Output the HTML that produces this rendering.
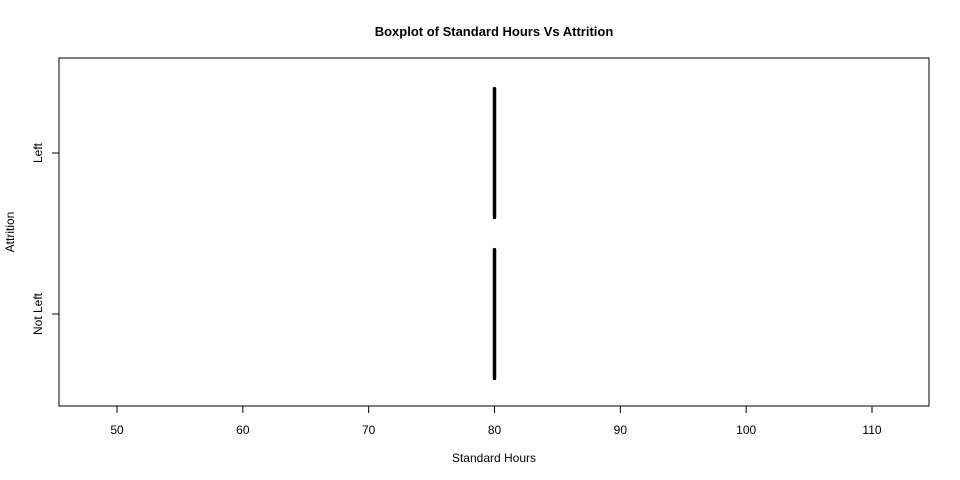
<!DOCTYPE html>
<html><head><meta charset="utf-8"><style>
body{margin:0;background:#fff}
svg{display:block;font-family:"Liberation Sans",Arial,sans-serif}
</style></head><body>
<svg id="chart" width="960" height="480">
<rect width="960" height="480" fill="#fff"/>
<text x="494" y="36" text-anchor="middle" font-size="13" font-weight="bold">Boxplot of Standard Hours Vs Attrition</text>
<rect x="59" y="58" width="870" height="348" fill="none" stroke="#000" stroke-width="1"/>
<text x="494" y="462" text-anchor="middle" font-size="12">Standard Hours</text>
<text transform="translate(14,232) rotate(-90)" text-anchor="middle" font-size="12">Attrition</text>
<g id="xaxis"></g>
<g id="yaxis"></g>
<g id="marks"></g>
</svg>
<script>
const categories = ["Not Left", "Left"];
const mins = [80, 80];
const q1s = [80, 80];
const medians = [80, 80];
const q3s = [80, 80];
const maxs = [80, 80];
const xTicks = [50, 60, 70, 80, 90, 100, 110];

const NS = "http://www.w3.org/2000/svg";
function xScale(v){ return 117 + (v - 50) * (872 - 117) / 60; }
function yScale(i){ return 314 - i * 161; }
const boxHalf = 0.4 * 161;
function mk(tag, attrs, parent){
  const e = document.createElementNS(NS, tag);
  for (const k in attrs) e.setAttribute(k, attrs[k]);
  parent.appendChild(e); return e;
}
const xa = document.getElementById('xaxis');
mk('line',{x1:xScale(xTicks[0]),x2:xScale(xTicks[xTicks.length-1]),y1:406,y2:406,stroke:'#000'},xa);
xTicks.forEach(t=>{
  const l = mk('line',{x1:xScale(t),x2:xScale(t),y1:406,y2:413,stroke:'#000'},xa);
  
  
  const tx = mk('text',{x:xScale(t),y:434,'text-anchor':'middle','font-size':12},xa);
  tx.textContent = t;
  
  
});
const ya = document.getElementById('yaxis');
categories.forEach((c,i)=>{
  const y = yScale(i);
  const l = mk('line',{x1:52,x2:59,y1:y,y2:y,stroke:'#000'},ya);
  
  
  const tx = mk('text',{transform:`translate(42,${y}) rotate(-90)`,'text-anchor':'middle','font-size':12},ya);
  tx.textContent = c;
  
  
});
const mg = document.getElementById('marks');
categories.forEach((c,i)=>{
  const y = yScale(i);
  const g = mk('g',{},mg);
  
  
  const x1 = xScale(q1s[i]), x3 = xScale(q3s[i]);
  mk('line',{x1:xScale(mins[i]),x2:x1,y1:y,y2:y,stroke:'#000','stroke-dasharray':'4,3'},g);
  mk('line',{x1:x3,x2:xScale(maxs[i]),y1:y,y2:y,stroke:'#000','stroke-dasharray':'4,3'},g);
  mk('rect',{x:x1,y:y-boxHalf,width:Math.max(0,x3-x1),height:2*boxHalf,fill:'none',stroke:'#000'},g);
  const m = mk('line',{x1:xScale(medians[i]),x2:xScale(medians[i]),y1:y-boxHalf,y2:y+boxHalf,stroke:'#000','stroke-width':3.5,'stroke-linecap':'round'},g);
  
  
});
</script>
</body></html>
